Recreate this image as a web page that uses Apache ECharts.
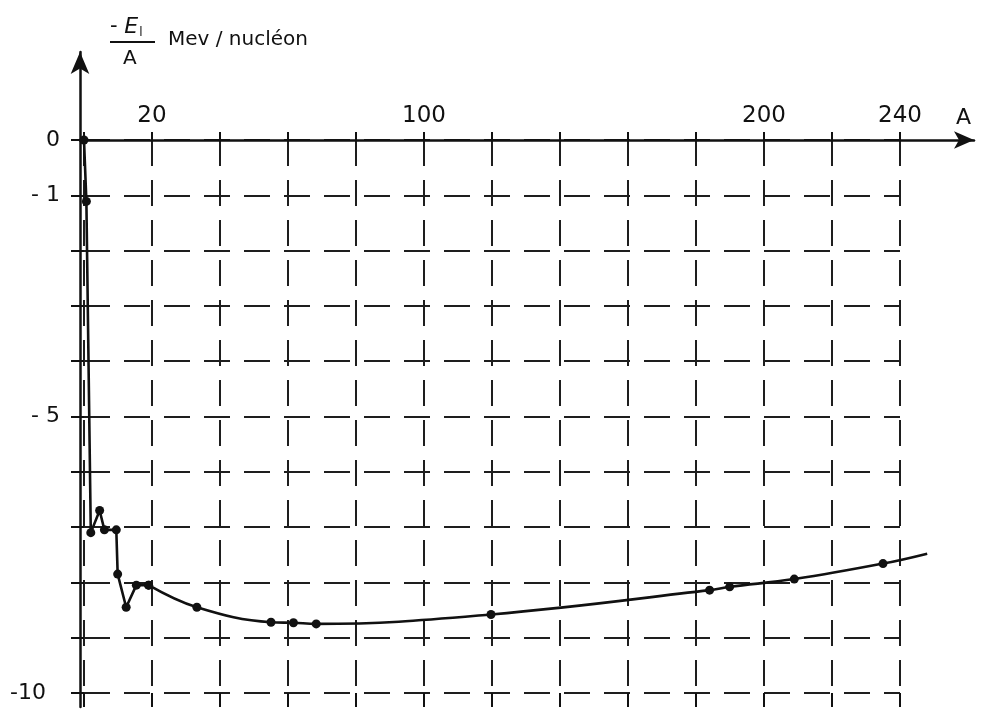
<!DOCTYPE html>
<html><head><meta charset="utf-8">
<script src="https://cdn.jsdelivr.net/npm/echarts@6/dist/echarts.min.js"></script>
<style>html,body{margin:0;padding:0;background:#fff}#c{width:984px;height:709px}</style>
</head><body><div id="c"></div>
<script>
// Mass number A and binding energy per nucleon (-E_l/A, MeV/nucleon)
const massNumbers = [0, 0.7, 2, 4.6, 6, 9.5, 9.9, 12.4, 15.4, 19, 33.2, 55, 61.6, 68.3, 119.7, 184, 189.9, 208.9, 235];
const energyPerNucleon = [0, -1.11, -7.1, -6.7, -7.05, -7.05, -7.85, -8.45, -8.05, -8.05, -8.45, -8.72, -8.73, -8.75, -8.58, -8.14, -8.08, -7.94, -7.66];
const curveEnd = [248, -7.48];          // end of the drawn curve (no marker)
const lightNucleiCount = 10;            // jagged part drawn with straight segments
const xTickValues = [20, 100, 200, 240];
const yTickValues = [0, -1, -5, -10];
const yTickTexts = ['0', '- 1', '- 5', '-10'];

const points = massNumbers.map((a, i) => [a, energyPerNucleon[i]]);
const jagged = points.slice(0, lightNucleiCount);
const smoothPart = points.slice(lightNucleiCount - 1).concat([{ value: curveEnd, symbol: 'none' }]);

// layout (pixels)
const g0 = { left: 84, top: 140, right: 900, bottom: 693 };   // dashed grid: A 0..240, E -10..0
const pxPerA = (g0.right - g0.left) / 240;
const pxPerE = (g0.bottom - g0.top) / 10;
const g1 = { left: 80, top: 52, right: 974, bottom: 707 };    // axes with arrows
const x1min = -(g0.left - g1.left) / pxPerA;
const x1max = (g1.right - g0.left) / pxPerA;
const y1max = (g0.top - g1.top) / pxPerE;
const y1min = -(g1.bottom - g0.top) / pxPerE;

const ink = '#111';
const dash = { type: [26, 14], color: '#1e1e1e', width: 2 };
const font = 'DejaVu Sans, Arial, sans-serif';

const chart = echarts.init(document.getElementById('c'), null, { renderer: 'canvas' });
chart.setOption({
  animation: false,
  backgroundColor: '#fff',
  grid: [
    { left: g0.left, top: g0.top, width: g0.right - g0.left, height: g0.bottom - g0.top },
    { left: g1.left, top: g1.top, width: g1.right - g1.left, height: g1.bottom - g1.top }
  ],
  xAxis: [
    {
      gridIndex: 0, type: 'value', min: 0, max: 240, interval: 20, position: 'top',
      axisLine: { show: false },
      axisTick: { show: true, length: 8, lineStyle: { color: ink, width: 2 } },
      axisLabel: {
        interval: 0, margin: 12, color: ink, fontFamily: font, fontSize: 23,
        formatter: v => xTickValues.includes(v) ? String(v) : ''
      },
      splitLine: { show: true, lineStyle: dash }
    },
    {
      gridIndex: 1, type: 'value', min: x1min, max: x1max,
      axisLine: { onZero: true, symbol: ['none', 'arrow'], symbolSize: [13, 20], lineStyle: { color: ink, width: 2.5 } },
      axisTick: { show: false }, axisLabel: { show: false }, splitLine: { show: false },
      name: 'A', nameLocation: 'end', nameGap: -18,
      nameTextStyle: { color: ink, fontFamily: font, fontSize: 22, align: 'left', verticalAlign: 'bottom', padding: [0, 0, 11, 0] }
    },
    {
      gridIndex: 0, type: 'value', min: 0, max: 240, interval: 20, position: 'bottom',
      axisLine: { show: false },
      axisTick: { show: true, length: 14, lineStyle: { color: ink, width: 2 } },
      axisLabel: { show: false }, splitLine: { show: false }
    }
  ],
  yAxis: [
    {
      gridIndex: 0, type: 'value', min: -10, max: 0, interval: 1,
      axisLine: { show: false },
      axisTick: { show: true, length: 13, lineStyle: { color: ink, width: 2 } },
      axisLabel: {
        margin: 24, color: ink, fontFamily: font, fontSize: 22,
        formatter: v => {
          const i = yTickValues.indexOf(v);
          if (i < 0) return '';
          return i === yTickValues.length - 1 ? '{far|' + yTickTexts[i] + '}' : yTickTexts[i];
        },
        rich: { far: { color: ink, fontFamily: font, fontSize: 22, padding: [0, 14, 0, 0] } }
      },
      splitLine: { show: true, lineStyle: dash }
    },
    {
      gridIndex: 1, type: 'value', min: y1min, max: y1max,
      axisLine: { onZero: false, symbol: ['none', 'arrow'], symbolSize: [14, 22], lineStyle: { color: ink, width: 2.5 } },
      axisTick: { show: false }, axisLabel: { show: false }, splitLine: { show: false }
    }
  ],
  series: [
    {
      type: 'line', xAxisIndex: 1, yAxisIndex: 1, data: jagged, smooth: false,
      symbol: 'circle', symbolSize: 9,
      lineStyle: { color: ink, width: 2.6 }, itemStyle: { color: ink }
    },
    {
      type: 'line', xAxisIndex: 1, yAxisIndex: 1, data: smoothPart, smooth: 0.4,
      symbol: 'circle', symbolSize: 9,
      lineStyle: { color: ink, width: 2.6 }, itemStyle: { color: ink }
    }
  ],
  graphic: [
    {
      type: 'text', left: 110, top: 16,
      style: {
        text: '{m|- }{e|E}{s|l}',
        rich: {
          m: { fontFamily: font, fontSize: 21, fill: ink },
          e: { fontFamily: font, fontSize: 22, fontStyle: 'italic', fill: ink },
          s: { fontFamily: font, fontSize: 12, fill: ink, padding: [12, 0, 0, 1] }
        }
      }
    },
    { type: 'line', shape: { x1: 110, y1: 42, x2: 155, y2: 42 }, style: { stroke: ink, lineWidth: 1.8 } },
    { type: 'text', left: 123, top: 49, style: { text: 'A', fontFamily: font, fontSize: 20, fill: ink } },
    { type: 'text', left: 168, top: 30, style: { text: 'Mev / nucléon', fontFamily: font, fontSize: 20, fill: ink } }
  ]
});
</script></body></html>
